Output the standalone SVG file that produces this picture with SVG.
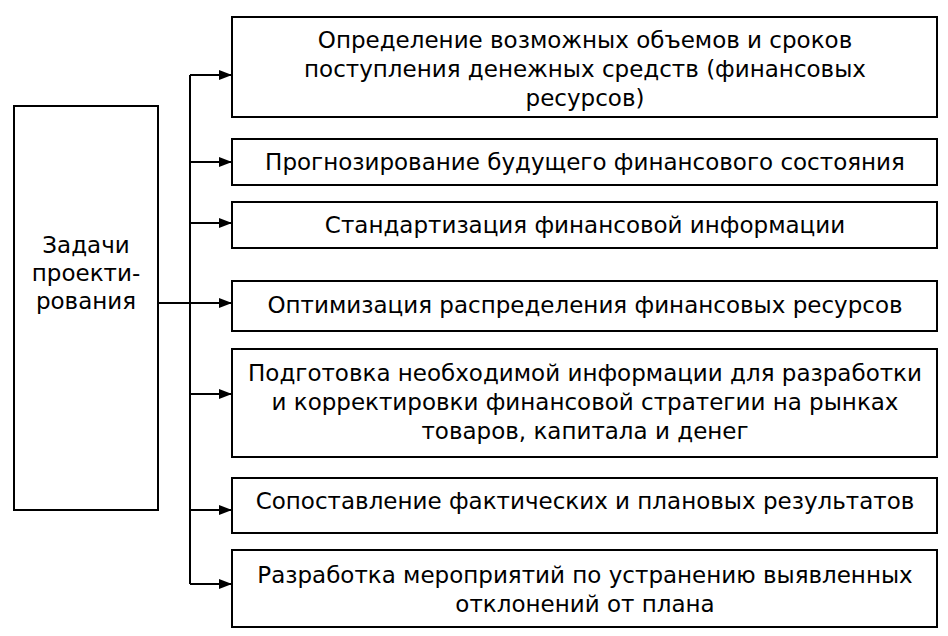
<svg xmlns="http://www.w3.org/2000/svg" width="948" height="636" viewBox="0 0 948 636">
<defs>
<style>
.box{fill:#fff;stroke:#000;stroke-width:2}
.t{font-family:"DejaVu Sans",Verdana,sans-serif;font-size:23px;fill:#000;text-anchor:middle}
.ln{stroke:#000;stroke-width:2;fill:none}
</style>
<marker id="ah" viewBox="0 0 13 10" refX="13" refY="5" markerWidth="13" markerHeight="10" markerUnits="userSpaceOnUse" orient="auto">
<path d="M0,0 L13,5 L0,10 Z" fill="#000"/>
</marker>
</defs>
<rect width="948" height="636" fill="#fff"/>
<g id="connectors">
<line class="ln" x1="190" y1="75" x2="190" y2="584"/>
<line class="ln" x1="190" y1="75" x2="232" y2="75" marker-end="url(#ah)"/>
<line class="ln" x1="190" y1="162" x2="232" y2="162" marker-end="url(#ah)"/>
<line class="ln" x1="190" y1="223" x2="232" y2="223" marker-end="url(#ah)"/>
<line class="ln" x1="158" y1="303" x2="232" y2="303" marker-end="url(#ah)"/>
<line class="ln" x1="190" y1="394" x2="232" y2="394" marker-end="url(#ah)"/>
<line class="ln" x1="190" y1="510" x2="232" y2="510" marker-end="url(#ah)"/>
<line class="ln" x1="190" y1="584" x2="232" y2="584" marker-end="url(#ah)"/>
</g>
<g id="root">
<rect class="box" x="14" y="106" width="144" height="404"/>
<text class="t" x="86" y="253">Задачи</text>
<text class="t" x="86" y="281">проекти-</text>
<text class="t" x="86" y="309">рования</text>
</g>
<g id="n1">
<rect class="box" x="232" y="17" width="705" height="100"/>
<text class="t" x="585" y="48">Определение возможных объемов и сроков</text>
<text class="t" x="585" y="77">поступления денежных средств (финансовых</text>
<text class="t" x="585" y="106">ресурсов)</text>
</g>
<g id="n2">
<rect class="box" x="232" y="139" width="705" height="46"/>
<text class="t" x="585" y="170">Прогнозирование будущего финансового состояния</text>
</g>
<g id="n3">
<rect class="box" x="232" y="202" width="705" height="46"/>
<text class="t" x="585" y="233">Стандартизация финансовой информации</text>
</g>
<g id="n4">
<rect class="box" x="232" y="281" width="705" height="50"/>
<text class="t" x="585" y="313">Оптимизация распределения финансовых ресурсов</text>
</g>
<g id="n5">
<rect class="box" x="232" y="349" width="705" height="108"/>
<text class="t" x="585" y="381">Подготовка необходимой информации для разработки</text>
<text class="t" x="585" y="410">и корректировки финансовой стратегии на рынках</text>
<text class="t" x="585" y="439">товаров, капитала и денег</text>
</g>
<g id="n6">
<rect class="box" x="232" y="478" width="705" height="55"/>
<text class="t" x="585" y="509">Сопоставление фактических и плановых результатов</text>
</g>
<g id="n7">
<rect class="box" x="232" y="550" width="705" height="77"/>
<text class="t" x="585" y="583">Разработка мероприятий по устранению выявленных</text>
<text class="t" x="585" y="612">отклонений от плана</text>
</g>
</svg>
